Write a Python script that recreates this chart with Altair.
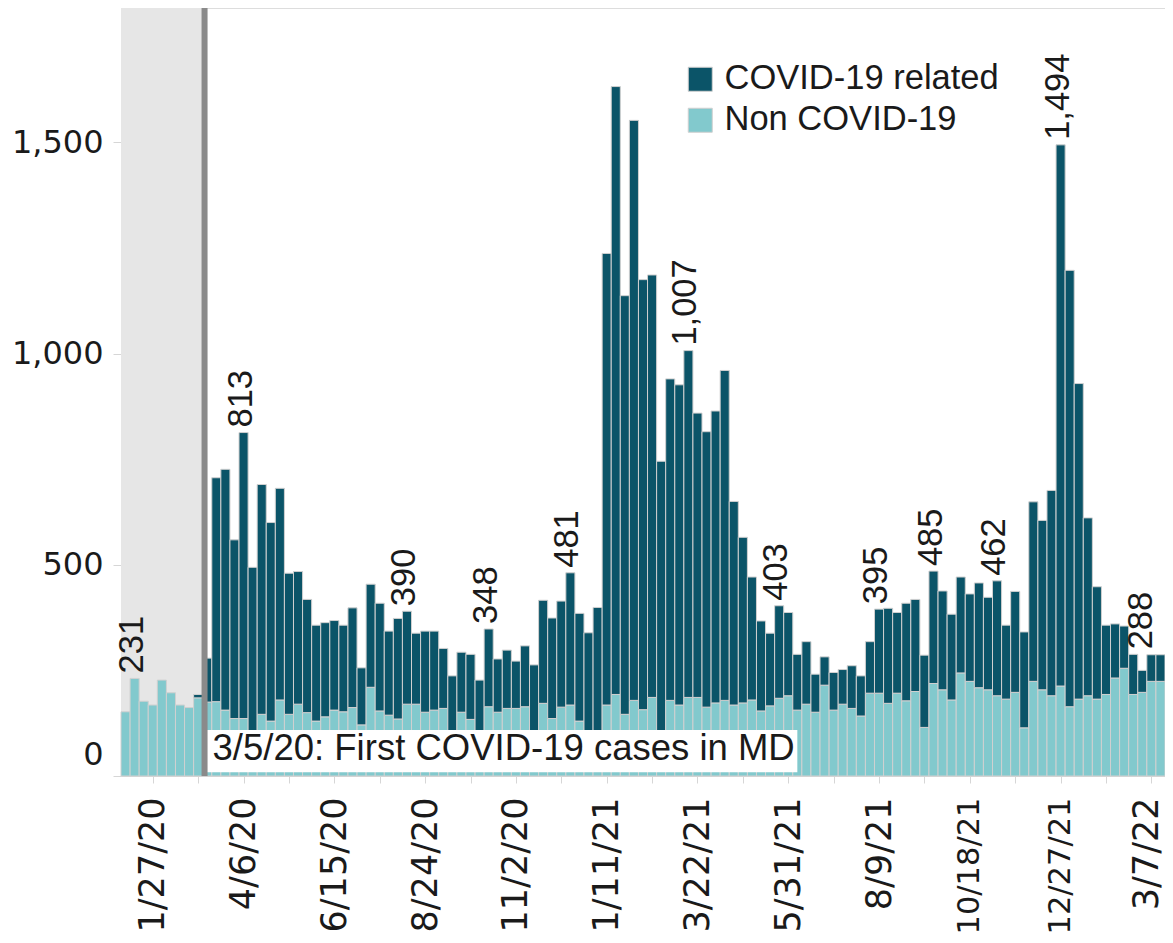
import altair as alt
import pandas as pd

# ---------------- data ----------------
first_week = "2020-01-06"          # weekly bars, centred on the week date
n_weeks = 115

total = [152, 231, 177, 168, 227, 197, 168, 162, 193, 279,
         706, 726, 559, 813, 494, 690, 600, 681, 480, 484,
         418, 357, 363, 368, 357, 398, 256, 454, 409, 343,
         373, 390, 338, 343, 343, 302, 237, 293, 288, 227,
         348, 277, 298, 272, 308, 263, 416, 374, 414, 481,
         385, 339, 399, 1237, 1632, 1137, 1552, 1175, 1186, 745,
         940, 926, 1007, 859, 815, 864, 960, 650, 565, 471,
         367, 338, 403, 387, 288, 318, 241, 282, 245, 252,
         261, 237, 318, 395, 397, 387, 409, 418, 286, 485,
         438, 383, 471, 431, 457, 423, 462, 357, 437, 341,
         649, 605, 676, 1494, 1197, 929, 611, 448, 357, 360,
         355, 288, 250, 287, 287]

non_covid = [152, 231, 177, 168, 227, 197, 168, 162, 185, 175,
             176, 156, 136, 136, 100, 146, 130, 180, 146, 170,
             150, 130, 140, 156, 152, 162, 121, 210, 154, 144,
             135, 170, 170, 151, 156, 160, 100, 151, 134, 100,
             164, 151, 160, 160, 164, 100, 172, 136, 163, 168,
             130, 100, 100, 168, 193, 146, 179, 157, 186, 100,
             179, 168, 186, 186, 163, 173, 179, 168, 173, 180,
             154, 166, 184, 190, 156, 170, 151, 215, 156, 170,
             160, 142, 196, 196, 172, 196, 178, 200, 115, 219,
             204, 180, 244, 224, 209, 204, 190, 182, 198, 114,
             224, 204, 190, 213, 164, 182, 190, 182, 193, 232,
             255, 193, 198, 224, 224]

labeled_weeks = ["2020-01-13", "2020-04-06", "2020-08-10", "2020-10-12",
                 "2020-12-14", "2021-03-15", "2021-05-24", "2021-08-09",
                 "2021-09-20", "2021-11-08", "2021-12-27", "2022-02-21"]
nudged_label_week = "2022-02-21"   # this value label sits a little to the right

series_names = ["COVID-19 related", "Non COVID-19"]
series_colors = ["#0b5468", "#82c9cd"]

first_case_date = "2020-03-05"
annotation_text = "3/5/20: First COVID-19 cases in MD"
annotation_box_end = "2021-06-07T00:00:00"
annotation_box_low, annotation_box_high, annotation_text_y = 9, 109, 64

y_ticks = [0, 500, 1000, 1500]
Y_MAX = 1818

# ---------------- tables ----------------
weeks = pd.date_range(first_week, periods=n_weeks, freq="7D")
half = pd.Timedelta(hours=84)
fmt = "%Y-%m-%dT%H:%M:%S"

rows = []
for d, t, n in zip(weeks, total, non_covid):
    s, e = (d - half).strftime(fmt), (d + half).strftime(fmt)
    rows.append({"start": s, "end": e, "type": "Non COVID-19", "y0": 0, "y1": n})
    if t - n > 0:
        rows.append({"start": s, "end": e, "type": "COVID-19 related", "y0": n, "y1": t})
bars_df = pd.DataFrame(rows)

lab_rows = []
for d, t in zip(weeks, total):
    key = d.strftime("%Y-%m-%d")
    if key in labeled_weeks:
        lab_rows.append({"week": d.strftime(fmt), "total": t, "text": f"{t:,}",
                         "nudge": key == nudged_label_week})
labels_df = pd.DataFrame(lab_rows)

domain_start = (weeks[0] - half).strftime(fmt)
domain_end = (weeks[-1] + half).strftime(fmt)

region_df = pd.DataFrame([{"start": domain_start, "end": first_case_date + "T00:00:00",
                           "lo": 0, "hi": Y_MAX}])
box_df = pd.DataFrame([{"start": first_case_date + "T00:00:00", "end": annotation_box_end,
                        "lo": annotation_box_low, "hi": annotation_box_high,
                        "ty": annotation_text_y, "text": annotation_text}])

tick_dates = weeks[3::5]
tick_values = [alt.DateTime(year=d.year, month=d.month, date=d.day) for d in tick_dates]

x_scale = alt.Scale(domain=[domain_start, domain_end], nice=False)
y_scale = alt.Scale(domain=[0, Y_MAX], nice=False)

x_axis = alt.Axis(
    values=tick_values,
    labelExpr="(round((datum.value - datetime(2020,0,27)) / 604800000) % 10 == 0) ? timeFormat(datum.value, '%-m/%-d/%y') : ''",
    labelAngle=270, labelAlign="right", labelBaseline="middle",
    labelFont="DejaVu Sans",
    labelFontSize={"condition": {"test": "month(datum.value) == 9 || month(datum.value) == 11",
                                 "value": 30.5}, "value": 35},
    labelColor="#1a1a1a",
    labelPadding=14, tickSize=7, tickColor="#d6d6d6", domainColor="#d6d6d6",
    labelOverlap=False, labelBound=False, labelFlush=False, grid=False, title=None,
    labelOffset={"condition": {"test": "year(datum.value) == 2022", "value": -5}, "value": 0},
)
y_axis = alt.Axis(
    values=y_ticks, format=",d",
    labelFont="DejaVu Sans", labelFontSize=32, labelColor="#1a1a1a",
    labelPadding=10, tickSize=8, tickColor="#d6d6d6", domain=False, grid=False, title=None,
    labelOffset={"condition": {"test": "datum.value == 0", "value": -22}, "value": 0},
)

grey = alt.Chart(region_df).mark_rect(color="#e6e6e6").encode(
    x=alt.X("start:T", scale=x_scale, axis=x_axis),
    x2="end:T",
    y=alt.Y("lo:Q", scale=y_scale, axis=y_axis),
    y2="hi:Q",
)

bars = alt.Chart(bars_df).mark_bar(stroke="#d0d0d0", strokeWidth=1).encode(
    x=alt.X("start:T", scale=x_scale, axis=x_axis),
    x2="end:T",
    y=alt.Y("y0:Q", scale=y_scale, axis=y_axis),
    y2="y1:Q",
    color=alt.Color("type:N",
                    scale=alt.Scale(domain=series_names, range=series_colors),
                    legend=alt.Legend(orient="none", legendX=562, legendY=54, title=None,
                                      symbolType="square", symbolSize=576,
                                      symbolStrokeColor="#cfcfcf", symbolStrokeWidth=1,
                                      symbolOpacity=1, labelLimit=0,
                                      labelFont="Liberation Sans", labelFontSize=34.5,
                                      labelColor="#1a1a1a", labelOffset=7, rowPadding=6)),
)

box = alt.Chart(box_df).mark_rect(color="white").encode(
    x="start:T", x2="end:T", y="lo:Q", y2="hi:Q",
)

rule = alt.Chart(region_df).mark_rule(color="#8a8a8a", strokeWidth=6, xOffset=2.5).encode(
    x="end:T", y="lo:Q", y2="hi:Q",
)

annot = alt.Chart(box_df).mark_text(
    align="left", baseline="middle", dx=10.5,
    font="Liberation Sans", fontSize=36.5, color="#1a1a1a",
).encode(x="start:T", y="ty:Q", text="text:N")

label_style = dict(angle=270, align="left", baseline="middle", dx=5,
                   font="Liberation Sans", fontSize=34.5, color="#1a1a1a")

value_labels = alt.Chart(labels_df).transform_filter("!datum.nudge").mark_text(
    dy=-2, **label_style
).encode(x="week:T", y="total:Q", text="text:N")

value_labels_nudged = alt.Chart(labels_df).transform_filter("datum.nudge").mark_text(
    dy=9, **label_style
).encode(x="week:T", y="total:Q", text="text:N")

chart = alt.layer(grey, bars, box, rule, annot, value_labels, value_labels_nudged).properties(
    width=1044, height=768,
    autosize=alt.AutoSizeParams(type="none"),
    padding={"left": 113, "top": 0, "right": 0, "bottom": 158},
).configure_view(stroke=None).configure(background="white")

chart.save("out.html", embed_options={"renderer": "svg", "actions": False})
